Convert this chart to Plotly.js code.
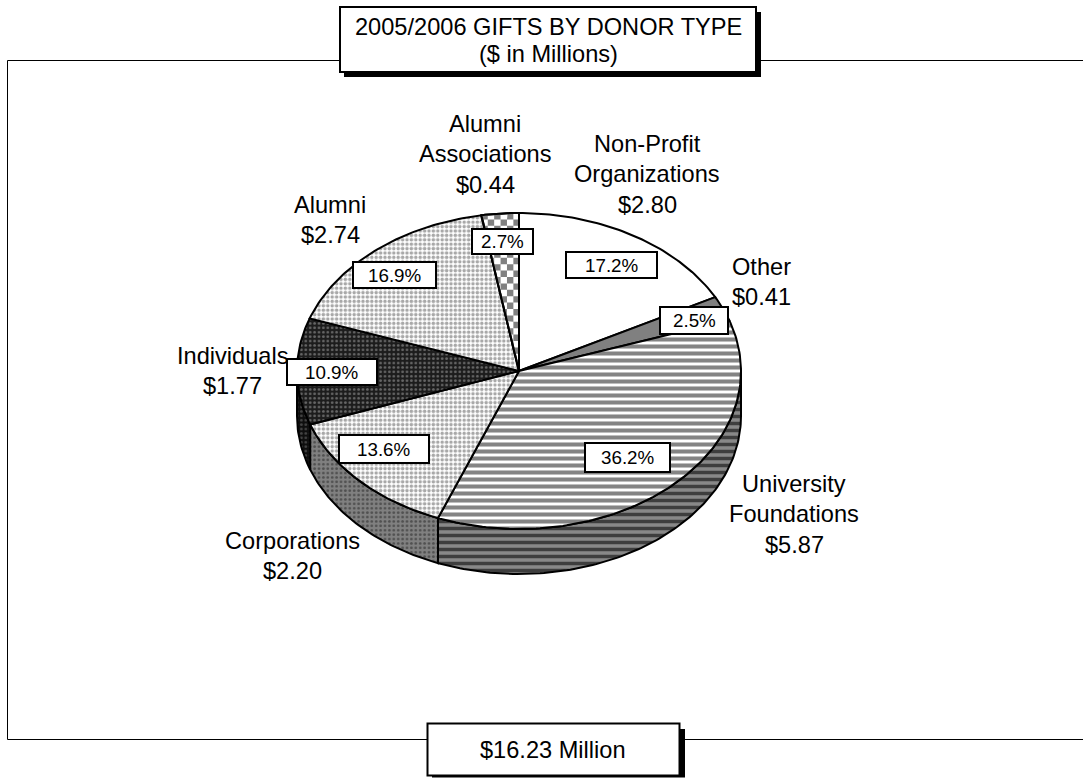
<!DOCTYPE html>
<html>
<head>
<meta charset="utf-8">
<script src="https://cdn.plot.ly/plotly-3.0.1.min.js"></script>
<style>html,body{margin:0;padding:0;background:#fff}</style>
</head>
<body>
<div id="chart" style="width:1083px;height:778px"></div>
<script>
// ---- chart values, clockwise from 12 o'clock ----
const categories = ["Non-Profit Organizations", "Other", "University Foundations", "Corporations", "Individuals", "Alumni", "Alumni Associations"];
const labelLines = [["Non-Profit", "Organizations"], ["Other"], ["University", "Foundations"], ["Corporations"], ["Individuals"], ["Alumni"], ["Alumni", "Associations"]];
const giftsMillions = [2.80, 0.41, 5.87, 2.20, 1.77, 2.74, 0.44];
const sharePercent = [17.2, 2.5, 36.2, 13.6, 10.9, 16.9, 2.7];
const chartTitle = ["2005/2006 GIFTS BY DONOR TYPE", "($ in Millions)"];
const totalLabel = "$16.23 Million";

// ---- placement and style ----
const FONT = "Liberation Sans, Arial, sans-serif";
const C = {x: 519, y: 371, rx: 222, ry: 158, depth: 45};
const nameCentres = [[647, 174], [761, 282], [794, 514], [292, 556], [232, 371], [330, 220], [485, 154]];
const pctBoxes = [[566, 657, 252, 278], [660, 728, 307, 334], [585, 670, 443, 472], [339, 429, 435, 463], [287, 377, 359, 385], [353, 436, 262, 288], [472, 533, 229, 254]];
const lightDots = {shape: ".", size: 4.4, solidity: 0.5, bgcolor: "#ffffff", fgcolor: "#a8a8a8", fillmode: "replace"};
const topStyle = [
  {fill: "#ffffff"},
  {fill: "#808080"},
  {pattern: {shape: "-", size: 7, solidity: 0.58, bgcolor: "#ffffff", fgcolor: "#848484", fillmode: "replace"}},
  {pattern: lightDots},
  {pattern: {shape: ".", size: 4.4, solidity: 0.3, bgcolor: "#1c1c1c", fgcolor: "#666666", fillmode: "replace"}},
  {pattern: lightDots},
  {fill: "#ffffff", checker: true}
];
const sideStyle = [
  null, null,
  {pattern: {shape: "-", size: 7, solidity: 0.5, bgcolor: "#888888", fgcolor: "#3e3e3e", fillmode: "replace"}},
  {pattern: {shape: ".", size: 4.4, solidity: 0.3, bgcolor: "#808080", fgcolor: "#505050", fillmode: "replace"}},
  {pattern: {shape: ".", size: 4.4, solidity: 0.3, bgcolor: "#0e0e0e", fgcolor: "#444444", fillmode: "replace"}},
  null, null
];

// ---- geometry derived from the values ----
const total = giftsMillions.reduce((a, b) => a + b, 0);
const deg = Math.PI / 180;
const pt = (a, dy = 0) => [C.x + C.rx * Math.sin(a), C.y - C.ry * Math.cos(a) + dy];
function arc(a0, a1, dy = 0) {
  const n = Math.max(2, Math.ceil(Math.abs(a1 - a0) / deg));
  const out = [];
  for (let i = 0; i <= n; i++) out.push(pt(a0 + (a1 - a0) * i / n, dy));
  return out;
}
const bounds = [];
let run = 0;
giftsMillions.forEach(v => { const a0 = run / total * 2 * Math.PI; run += v; bounds.push([a0, run / total * 2 * Math.PI]); });

function polyTrace(points, opts) {
  const t = {
    type: "scatter", mode: "lines", hoverinfo: "skip", showlegend: false,
    x: points.map(p => p[0]), y: points.map(p => p[1]),
    line: {color: "#000000", width: 2, shape: "linear"}
  };
  if (opts.fill || opts.pattern) { t.fill = "toself"; t.fillcolor = opts.fill || "rgba(0,0,0,0)"; }
  if (opts.pattern) t.fillpattern = opts.pattern;
  return t;
}

// clip a square cell to a convex polygon (Sutherland-Hodgman)
function clip(cell, poly) {
  let area = 0;
  for (let i = 0; i < poly.length; i++) {
    const p = poly[i], q = poly[(i + 1) % poly.length];
    area += p[0] * q[1] - q[0] * p[1];
  }
  const sgn = Math.sign(area);
  let out = cell;
  for (let i = 0; i < poly.length && out.length; i++) {
    const a = poly[i], b = poly[(i + 1) % poly.length];
    const side = p => sgn * ((b[0] - a[0]) * (p[1] - a[1]) - (b[1] - a[1]) * (p[0] - a[0]));
    const res = [];
    for (let j = 0; j < out.length; j++) {
      const p = out[j], q = out[(j + 1) % out.length], sp = side(p), sq = side(q);
      if (sp >= 0) res.push(p);
      if ((sp >= 0) !== (sq >= 0)) {
        const t = sp / (sp - sq);
        res.push([p[0] + (q[0] - p[0]) * t, p[1] + (q[1] - p[1]) * t]);
      }
    }
    out = res;
  }
  return out;
}

const traces = [];
// side wall: only the part of each slice on the front half of the ellipse
bounds.forEach((b, i) => {
  if (!sideStyle[i]) return;
  const a0 = Math.max(b[0], 90 * deg), a1 = Math.min(b[1], 270 * deg);
  if (a1 <= a0) return;
  const poly = arc(a0, a1).concat(arc(a1, a0, C.depth));
  poly.push(poly[0]);
  traces.push(polyTrace(poly, {pattern: sideStyle[i].pattern}));
});
// top face
bounds.forEach((b, i) => {
  const poly = [[C.x, C.y]].concat(arc(b[0], b[1]));
  poly.push([C.x, C.y]);
  traces.push(polyTrace(poly, topStyle[i]));
  if (topStyle[i].checker) {
    const cellSize = 6.4, xs = [], ys = [];
    const ring = poly.slice(0, -1);
    const x0 = Math.min(...poly.map(p => p[0])), x1 = Math.max(...poly.map(p => p[0]));
    const y0 = Math.min(...poly.map(p => p[1])), y1 = Math.max(...poly.map(p => p[1]));
    for (let r = 0; y0 + r * cellSize < y1; r++) {
      for (let c = 0; x0 + c * cellSize < x1; c++) {
        if ((r + c) % 2) continue;
        const l = x0 + c * cellSize, t = y0 + r * cellSize;
        const cl = clip([[l, t], [l + cellSize, t], [l + cellSize, t + cellSize], [l, t + cellSize]], ring);
        if (cl.length > 2) {
          cl.concat([cl[0]]).forEach(p => { xs.push(p[0]); ys.push(p[1]); });
          xs.push(null); ys.push(null);
        }
      }
    }
    traces.push({type: "scatter", mode: "lines", hoverinfo: "skip", showlegend: false, x: xs, y: ys,
      fill: "toself", fillcolor: "#808080", line: {width: 0, color: "rgba(0,0,0,0)"}});
    traces.push(polyTrace(poly, {}));
  }
});

// ---- boxes and text ----
const rect = (x0, x1, y0, y1, fill, w) => ({type: "rect", xref: "x", yref: "y", x0, x1, y0, y1, fillcolor: fill,
  line: {color: "#000000", width: w}, layer: "above"});
const hline = (x0, x1, y) => ({type: "line", xref: "x", yref: "y", x0, x1, y0: y, y1: y, line: {color: "#000000", width: 1}, layer: "above"});
const shapes = [
  hline(7.5, 340, 60.5), hline(756, 1083, 60.5), hline(7.5, 428, 739.5), hline(679, 1083, 739.5),
  {type: "line", xref: "x", yref: "y", x0: 7.5, x1: 7.5, y0: 60.5, y1: 739.5, line: {color: "#000000", width: 1}, layer: "above"},
  rect(344, 761, 12, 77, "#000000", 0), rect(340, 756, 7, 72, "#ffffff", 2),
  rect(432, 685, 729, 777.5, "#000000", 0), rect(427.5, 679.5, 723.5, 775.5, "#ffffff", 2)
];
pctBoxes.forEach(b => shapes.push(rect(b[0], b[1], b[2], b[3], "#ffffff", 2)));

const annotations = [];
const addText = (text, x, y, size) => annotations.push({text, x, y, xref: "x", yref: "y", showarrow: false,
  xanchor: "center", yanchor: "middle", align: "center", font: {family: FONT, size, color: "#000000"}});

const LINE = 30.5;
categories.forEach((name, i) => {
  const lines = labelLines[i].concat(["$" + giftsMillions[i].toFixed(2)]);
  const top = nameCentres[i][1] - (lines.length - 1) * LINE / 2;
  lines.forEach((s, k) => addText(s, nameCentres[i][0], top + k * LINE, 23.6));
  addText(sharePercent[i].toFixed(1) + "%", (pctBoxes[i][0] + pctBoxes[i][1]) / 2, (pctBoxes[i][2] + pctBoxes[i][3]) / 2, 18.8);
});
addText(chartTitle[0], 548, 27, 23.6);
addText(chartTitle[1], 548, 54, 23.6);
addText(totalLabel, 553, 749.5, 23.6);

const axis = {visible: false, fixedrange: true, showgrid: false, zeroline: false};
Plotly.newPlot("chart", traces, {
  width: 1083, height: 778, margin: {l: 0, r: 0, t: 0, b: 0},
  paper_bgcolor: "#ffffff", plot_bgcolor: "#ffffff", showlegend: false,
  xaxis: Object.assign({range: [0, 1083]}, axis),
  yaxis: Object.assign({range: [778, 0]}, axis),
  shapes, annotations
}, {displayModeBar: false, staticPlot: true});
</script>
</body>
</html>
